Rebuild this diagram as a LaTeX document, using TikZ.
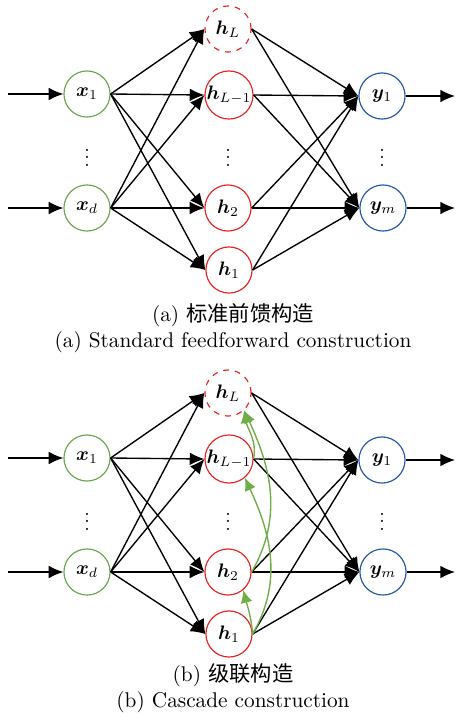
\documentclass[tikz,border=0pt]{standalone}
\usepackage{fontspec}
\usepackage{bm}
\newfontfamily\cjk{Noto Sans CJK SC}
\usetikzlibrary{arrows.meta}

\definecolor{ingreen}{RGB}{106,168,79}
\definecolor{hidred}{RGB}{232,36,36}
\definecolor{outblue}{RGB}{38,88,170}
\definecolor{cascgreen}{RGB}{112,173,71}

\tikzset{
  neuron/.style={circle, draw, line width=0.6pt, minimum size=0.83cm, inner sep=0pt},
  dots/.style={inner sep=0pt},
  conn/.style={-{Latex[length=7.5pt,width=6.5pt]}, line width=0.7pt},
  skipconn/.style={-{Latex[length=6.5pt,width=6pt]}, draw=cascgreen, line width=0.7pt},
  caption/.style={font=\fontsize{10.9}{13}\selectfont}
}

% one network, placed twice
\newcommand{\drawnet}{%
  \node[neuron, draw=ingreen] (x1) at (87,94) {$\bm{x}_1$};
  \node[neuron, draw=ingreen] (xd) at (87,208) {$\bm{x}_d$};
  \node[dots] (xdots) at (87,152) {$\vdots$};
  \node[neuron, draw=hidred, dashed] (hL) at (228,29) {$\bm{h}_L$};
  \node[neuron, draw=hidred] (hL1) at (229,95) {$\bm{h}_{L-1}$};
  \node[dots] (hdots) at (228,152) {$\vdots$};
  \node[neuron, draw=hidred] (h2) at (228,208) {$\bm{h}_2$};
  \node[neuron, draw=hidred] (h1) at (229,270) {$\bm{h}_1$};
  \node[neuron, draw=outblue] (y1) at (382,96) {$\bm{y}_1$};
  \node[dots] (ydots) at (382,152) {$\vdots$};
  \node[neuron, draw=outblue] (ym) at (383,208) {$\bm{y}_m$};
  \coordinate (in1) at (8,94);
  \coordinate (ind) at (8,208);
  \coordinate (out1) at (455,96);
  \coordinate (outm) at (455,208);
  \draw[conn] (in1) -- (x1);
  \draw[conn] (ind) -- (xd);
  \draw[conn] (y1) -- (out1);
  \draw[conn] (ym) -- (outm);
  \foreach \s in {x1,xd}
    \foreach \t in {hL,hL1,h2,h1}
      \draw[conn] (\s.east) -- (\t.west);
  \foreach \s in {hL,hL1,h2,h1}
    \foreach \t in {y1,ym}
      \draw[conn] (\s.east) -- (\t.west);
}

\begin{document}
\begin{tikzpicture}[x=0.018cm, y=-0.018cm]
  \useasboundingbox (0,0) rectangle (460,718);

  % (a) standard
  \begin{scope}[name prefix=a-]
    \drawnet
  \end{scope}
  \node[caption] (capa1) at (233,315) {(a) {\cjk 标准前馈构造}};
  \node[caption] (capa2) at (233,342) {(a) Standard feedforward construction};

  % (b) cascade
  \begin{scope}[name prefix=b-, shift={(0,364)}]
    \drawnet
    \draw[skipconn] (h1.east) to[out=95, in=-75] (h2.-50);
    \draw[skipconn] (h1.east) to[out=60, in=-65] (hL1.-50);
    \draw[skipconn] (h2.east) to[out=60, in=-65] (hL.-47);
    \draw[skipconn] (hL1.east) to[out=80, in=-80] (hL.-47);
  \end{scope}
  \node[caption] (capb1) at (233,675) {(b) {\cjk 级联构造}};
  \node[caption] (capb2) at (233,702) {(b) Cascade construction};
\end{tikzpicture}
\end{document}
